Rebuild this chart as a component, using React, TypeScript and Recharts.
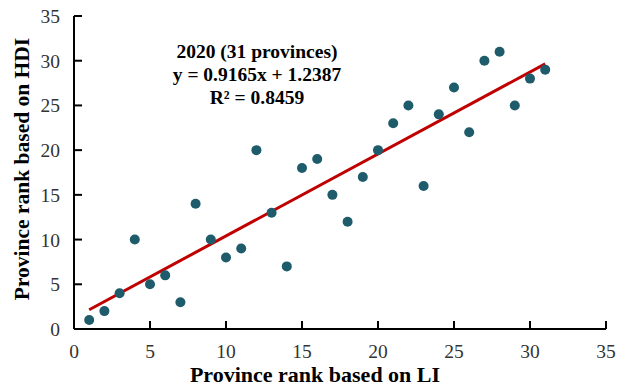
import { ScatterChart, Scatter, XAxis, YAxis, ReferenceLine, Label } from 'recharts';

const liRank = [1, 2, 3, 4, 5, 6, 7, 8, 9, 10, 11, 12, 13, 14, 15, 16, 17, 18, 19, 20, 21, 22, 23, 24, 25, 26, 27, 28, 29, 30, 31];
const hdiRank = [1, 2, 4, 10, 5, 6, 3, 14, 10, 8, 9, 20, 13, 7, 18, 19, 15, 12, 17, 20, 23, 25, 16, 24, 27, 22, 30, 31, 25, 28, 29];
const axisTicks = [0, 5, 10, 15, 20, 25, 30, 35];
const slope = 0.9165;
const intercept = 1.2387;
const annotation = ['2020 (31 provinces)', 'y = 0.9165x + 1.2387', 'R² = 0.8459'];

const points = liRank.map((x, i) => ({ x, y: hdiRank[i] }));
const fit = (x: number) => slope * x + intercept;

const FONT = '"Liberation Serif", "Times New Roman", serif';

const XTick = ({ x, y, payload }: any) => (
  <g>
    {payload.value !== 0 && <line x1={x} y1={y} x2={x} y2={y - 8} stroke="#000" strokeWidth={2} />}
    <text x={x} y={y + 29} textAnchor="middle" fontFamily={FONT} fontSize={19.5} fill="#333">
      {payload.value}
    </text>
  </g>
);

const YTick = ({ x, y, payload }: any) => (
  <g>
    {payload.value !== 0 && <line x1={x} y1={y} x2={x + 8} y2={y} stroke="#000" strokeWidth={2} />}
    <text x={x - 14} y={y + 7} textAnchor="end" fontFamily={FONT} fontSize={19.5} fill="#333">
      {payload.value}
    </text>
  </g>
);

export default function App() {
  return (
    <div style={{ position: 'absolute', left: 0, top: 0, width: 620, height: 390, background: '#fff' }}>
      <ScatterChart width={620} height={390} margin={{ top: 16, right: 14, bottom: 60, left: 73 }}>
        <XAxis
          type="number"
          dataKey="x"
          domain={[0, 35]}
          ticks={axisTicks}
          height={1}
          tickSize={0}
          tickMargin={0}
          tickLine={false}
          tick={<XTick />}
          axisLine={{ stroke: '#000', strokeWidth: 2 }}
        >
          <Label
            content={() => (
              <text x={315} y={382} textAnchor="middle" fontFamily={FONT} fontSize={22} fontWeight="bold" fill="#000">
                Province rank based on LI
              </text>
            )}
          />
        </XAxis>
        <YAxis
          type="number"
          dataKey="y"
          domain={[0, 35]}
          ticks={axisTicks}
          width={1}
          tickSize={0}
          tickMargin={0}
          tickLine={false}
          tick={<YTick />}
          axisLine={{ stroke: '#000', strokeWidth: 2 }}
        >
          <Label
            content={() => (
              <text
                x={22}
                y={169}
                transform="rotate(-90 22 169)"
                textAnchor="middle"
                dominantBaseline="central"
                fontFamily={FONT}
                fontSize={21.5}
                fontWeight="bold"
                fill="#000"
              >
                Province rank based on HDI
              </text>
            )}
          />
        </YAxis>
        <Scatter data={points} fill="#1f5c6b" isAnimationActive={false} shape={(p: any) => <circle cx={p.cx} cy={p.cy} r={5} fill="#1f5c6b" />} />
        <ReferenceLine
          segment={[
            { x: liRank[0], y: fit(liRank[0]) },
            { x: liRank[liRank.length - 1], y: fit(liRank[liRank.length - 1]) },
          ]}
          stroke="#c00000"
          strokeWidth={3}
        />
        {annotation.map((t, i) => (
          <ReferenceLine
            key={t}
            y={35}
            stroke="none"
            label={{
              value: t,
              content: () => (
                <text x={257} y={58 + i * 23} textAnchor="middle" fontFamily={FONT} fontSize={19.5} fontWeight="bold" fill="#000">
                  {t}
                </text>
              ),
            }}
          />
        ))}
      </ScatterChart>
    </div>
  );
}
